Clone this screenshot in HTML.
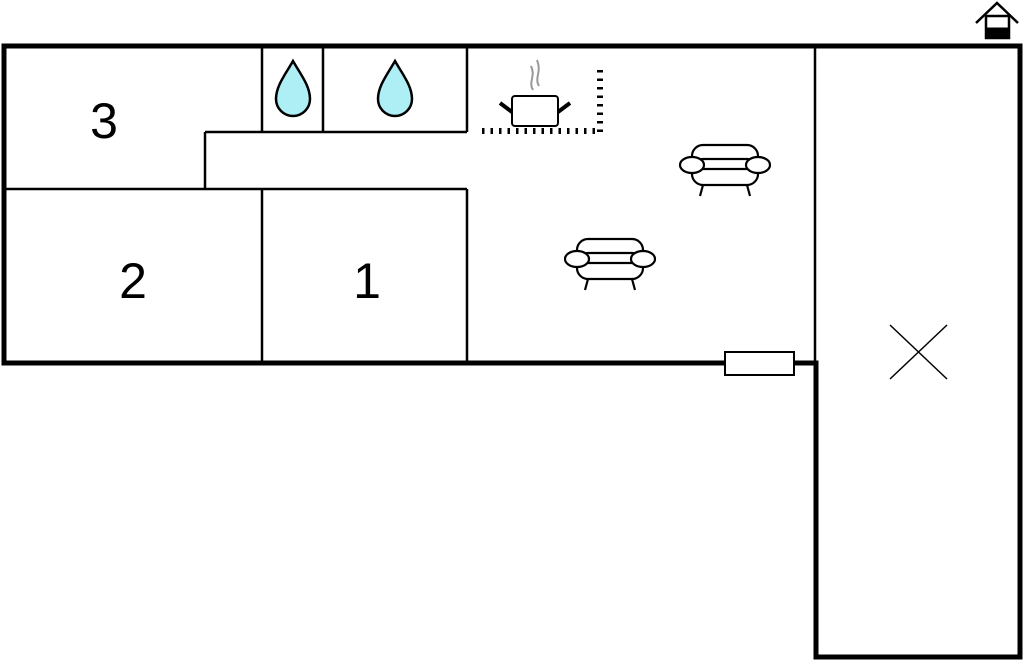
<!DOCTYPE html>
<html><head><style>html,body{margin:0;padding:0;background:#fff}svg{display:block}</style></head><body>
<svg width="1024" height="662" viewBox="0 0 1024 662" xmlns="http://www.w3.org/2000/svg">
<defs>
<g id="sofa" fill="#fff" stroke="#000" stroke-width="2.2">
<line x1="-22" y1="20" x2="-25" y2="31"/><line x1="22" y1="20" x2="25" y2="31"/>
<rect x="-33" y="-20" width="66" height="26" rx="11"/>
<rect x="-33" y="-6" width="66" height="26" rx="11"/>
<line x1="-24" y1="4" x2="24" y2="4"/>
<ellipse cx="-33" cy="0" rx="12" ry="8"/><ellipse cx="33" cy="0" rx="12" ry="8"/>
</g>
</defs>
<g stroke="#000" fill="none">
<path d="M4 46 H1020 V657 H816 V363 H4 Z" stroke-width="5"/>
<g stroke-width="2.5">
<line x1="4" y1="189" x2="467" y2="189"/>
<line x1="205" y1="132" x2="467" y2="132"/>
<line x1="205" y1="132" x2="205" y2="189"/>
<line x1="262" y1="46" x2="262" y2="132"/>
<line x1="323" y1="46" x2="323" y2="132"/>
<line x1="467" y1="46" x2="467" y2="132"/>
<line x1="262" y1="189" x2="262" y2="363"/>
<line x1="467" y1="189" x2="467" y2="363"/>
<line x1="815" y1="46" x2="815" y2="363"/>
</g>
<rect x="725" y="352" width="69" height="23" fill="#fff" stroke-width="2"/>
<line x1="890" y1="325" x2="947" y2="379" stroke-width="1.5"/>
<line x1="947" y1="325" x2="890" y2="379" stroke-width="1.5"/>
<line x1="482" y1="131" x2="598" y2="131" stroke-width="6" stroke-dasharray="2.5 6"/>
<line x1="600" y1="70" x2="600" y2="134" stroke-width="6" stroke-dasharray="2.5 6"/>
<rect x="512" y="96" width="46" height="30" rx="3" fill="#fff" stroke-width="2"/>
<line x1="500" y1="103" x2="512" y2="112" stroke-width="4"/>
<line x1="570" y1="103" x2="558" y2="112" stroke-width="4"/>
<path d="M533 90 C528 82 536 76 531 66 M539 86 C534 78 542 72 537 60" stroke="#999" stroke-width="2"/>
<path d="M293 61 C285 75 276 86 276 99 A17 17 0 0 0 310 99 C310 86 301 75 293 61 Z" fill="#aeeef5" stroke-width="2.5"/>
<path d="M395 61 C387 75 378 86 378 99 A17 17 0 0 0 412 99 C412 86 403 75 395 61 Z" fill="#aeeef5" stroke-width="2.5"/>
<path d="M976 23 L997 3 L1018 23" stroke-width="2.5"/>
<rect x="986" y="16" width="23" height="22" stroke-width="2.5"/>
<rect x="986" y="28" width="23" height="10" fill="#000"/>
</g>
<use href="#sofa" x="725" y="165"/>
<use href="#sofa" x="610" y="259"/>
<g font-family="Liberation Sans, sans-serif" font-size="50" text-anchor="middle" fill="#000">
<text x="104" y="138">3</text>
<text x="133" y="298">2</text>
<text x="367" y="298">1</text>
</g>
</svg>
</body></html>
